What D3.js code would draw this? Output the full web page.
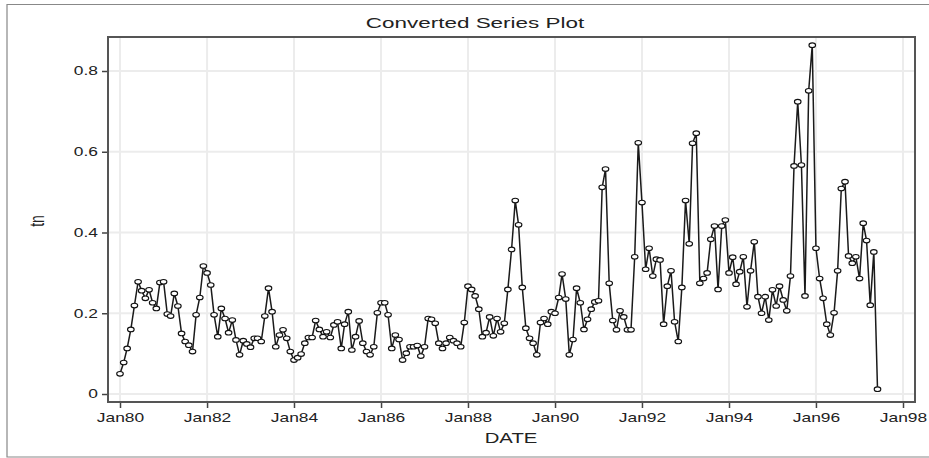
<!DOCTYPE html>
<html>
<head>
<meta charset="utf-8">
<script src="https://cdn.jsdelivr.net/npm/d3@7"></script>
<style>
html,body{margin:0;padding:0;background:#fff;}
svg{display:block;}
text{font-family:"Liberation Sans",Arial,sans-serif;fill:#222;}
</style>
</head>
<body>
<svg id="chart" width="929" height="458"></svg>
<script>
const titleText = "Converted Series Plot";
const xLabel = "DATE";
const yLabel = "tn";
const startYear = 1980, startMonth = 0;
const values = [
0.050,0.078,0.113,0.160,0.219,0.278,0.256,0.237,0.258,0.226,0.212,0.276,
0.278,0.198,0.193,0.249,0.218,0.150,0.130,0.121,0.105,0.196,0.239,0.317,
0.300,0.270,0.196,0.142,0.212,0.187,0.152,0.183,0.134,0.097,0.132,0.124,
0.116,0.138,0.138,0.130,0.193,0.262,0.204,0.117,0.146,0.159,0.138,0.105,
0.084,0.090,0.099,0.126,0.140,0.140,0.182,0.160,0.142,0.154,0.140,0.171,
0.179,0.113,0.173,0.204,0.109,0.142,0.181,0.126,0.105,0.097,0.117,0.201,
0.226,0.226,0.196,0.113,0.146,0.135,0.084,0.101,0.117,0.117,0.120,0.094,
0.117,0.187,0.185,0.175,0.126,0.113,0.126,0.140,0.132,0.126,0.117,0.177,
0.267,0.259,0.243,0.210,0.142,0.152,0.191,0.144,0.187,0.154,0.175,0.259,
0.358,0.479,0.419,0.264,0.163,0.138,0.126,0.097,0.177,0.187,0.173,0.204,
0.200,0.239,0.297,0.235,0.097,0.135,0.262,0.226,0.160,0.185,0.210,0.228,
0.231,0.512,0.557,0.274,0.182,0.159,0.206,0.191,0.159,0.159,0.340,0.622,
0.474,0.309,0.361,0.292,0.334,0.332,0.173,0.267,0.305,0.179,0.130,0.264,
0.479,0.372,0.621,0.646,0.274,0.286,0.300,0.383,0.416,0.259,0.416,0.431,
0.300,0.339,0.272,0.303,0.340,0.216,0.305,0.377,0.241,0.200,0.241,0.183,
0.258,0.218,0.267,0.233,0.206,0.292,0.565,0.724,0.567,0.243,0.751,0.864,
0.361,0.286,0.237,0.173,0.146,0.201,0.305,0.509,0.526,0.342,0.324,0.340,
0.286,0.423,0.380,0.220,0.352,0.012
];
const xTickYears = [1980,1982,1984,1986,1988,1990,1992,1994,1996,1998];
const yTickValues = [0,0.2,0.4,0.6,0.8];

const data = values.map((v,i)=>({date:new Date(startYear, startMonth+i, 1), value:v}));

const svg = d3.select("#chart");
const SX = 1.45; // horizontal stretch of text in reference
const plot = {left:108, right:915, top:37, bottom:402};

const x = d3.scaleTime()
  .domain([new Date(1980,0,1), new Date(1998,0,1)])
  .range([120, 903]);
const y = d3.scaleLinear().domain([0,0.8]).range([394,71]);

// outer frame (top, left, bottom edges)
svg.append("path").attr("d","M929,4.5H7V457H929")
  .attr("fill","none").attr("stroke","#888").attr("stroke-width",1.2);

// gridlines
const grid = svg.append("g");
grid.selectAll("line.gx").data(xTickYears).enter().append("line")
  .attr("x1",d=>x(new Date(d,0,1))).attr("x2",d=>x(new Date(d,0,1)))
  .attr("y1",plot.top).attr("y2",plot.bottom)
  .attr("stroke","#ececec").attr("stroke-width",2);
grid.selectAll("line.gy").data(yTickValues).enter().append("line")
  .attr("x1",plot.left).attr("x2",plot.right)
  .attr("y1",d=>y(d)).attr("y2",d=>y(d))
  .attr("stroke","#ececec").attr("stroke-width",2);

// axes
const xAxis = d3.axisBottom(x)
  .tickValues(xTickYears.map(yy=>new Date(yy,0,1)))
  .tickFormat(d=>"Jan"+String(d.getFullYear()).slice(2))
  .tickSize(6).tickPadding(4).tickSizeOuter(0);
const gx = svg.append("g").attr("transform",`translate(0,${plot.bottom})`).call(xAxis);
gx.select(".domain").remove();
gx.selectAll(".tick line").attr("stroke","#444").attr("stroke-width",1.5);
gx.selectAll(".tick text").attr("font-size",12).attr("fill","#222")
  .attr("transform",`scale(${SX},1)`).attr("x",0).attr("dy","1.35em").attr("y",4);

const yAxis = d3.axisLeft(y).tickValues(yTickValues)
  .tickFormat(d=>d===0?"0":d3.format(".1f")(d))
  .tickSize(6).tickPadding(4).tickSizeOuter(0);
const gy = svg.append("g").attr("transform",`translate(${plot.left},0)`).call(yAxis);
gy.select(".domain").remove();
gy.selectAll(".tick line").attr("stroke","#444").attr("stroke-width",1.5);
gy.selectAll(".tick text").attr("font-size",12).attr("fill","#222")
  .attr("x",-10/SX).attr("transform",`scale(${SX},1)`);

// plot frame
svg.append("rect").attr("x",plot.left).attr("y",plot.top)
  .attr("width",plot.right-plot.left).attr("height",plot.bottom-plot.top)
  .attr("fill","none").attr("stroke","#555").attr("stroke-width",2);

// series line
const line = d3.line().x(d=>x(d.date)).y(d=>y(d.value));
svg.append("path").datum(data).attr("d",line)
  .attr("fill","none").attr("stroke","#1a1a1a").attr("stroke-width",1.5);

// markers
svg.append("g").selectAll("ellipse").data(data).enter().append("ellipse")
  .attr("cx",d=>x(d.date)).attr("cy",d=>y(d.value))
  .attr("rx",3.3).attr("ry",2.3)
  .attr("fill","#fff").attr("stroke","#111").attr("stroke-width",1.1);

// title
svg.append("text")
  .attr("transform",`translate(475,28) scale(${SX},1)`)
  .attr("text-anchor","middle").attr("font-size",15.5).attr("fill","#222")
  .text(titleText);

// x label
svg.append("text")
  .attr("transform",`translate(511,443) scale(${SX},1)`)
  .attr("text-anchor","middle").attr("font-size",14).attr("fill","#222")
  .text(xLabel);

// y label
svg.append("text")
  .attr("transform",`translate(44,221) rotate(-90) scale(1,${SX})`)
  .attr("text-anchor","middle").attr("font-size",14).attr("fill","#222")
  .text(yLabel);
</script>
</body>
</html>
